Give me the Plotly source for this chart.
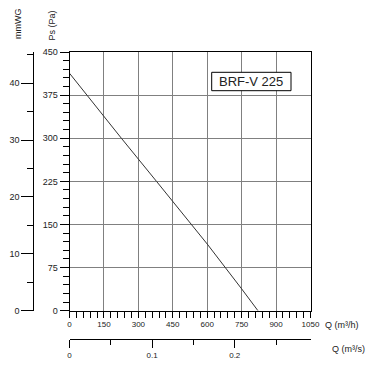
import plotly.graph_objects as go

# Data
flow_m3h = [0, 75, 226, 379, 531, 600, 750, 821]
pressure_pa = [413, 375, 300, 225, 150, 116, 38, 0]

pa_ticks = [0, 75, 150, 225, 300, 375, 450]
mmwg_ticks = [0, 10, 20, 30, 40]
q_h_ticks = [0, 150, 300, 450, 600, 750, 900, 1050]
q_s_ticks = [0, 0.1, 0.2]
model_label = "BRF-V 225"

OFF = 8  # page body margin
W, H = 382 - OFF, 381 - OFF


def px(x):
    return (x - OFF) / W


def py(y):
    return (H - (y - OFF)) / H


x0, x1 = 69.5, 310.5
ytop, ybot = 52.0, 310.7

FONT = "Liberation Sans, Arial, sans-serif"
TXT = "#222"

fig = go.Figure()
fig.add_trace(go.Scatter(x=flow_m3h, y=pressure_pa, mode="lines",
                         line=dict(color="#333", width=1), hoverinfo="skip",
                         showlegend=False))
fig.add_trace(go.Scatter(x=[None], y=[None], xaxis="x2", yaxis="y2",
                         mode="lines", showlegend=False, hoverinfo="skip"))

dom_x = [px(x0), px(x1)]
dom_y = [py(ybot), py(ytop)]

fig.update_layout(
    width=W, height=H, autosize=False,
    margin=dict(l=0, r=0, t=0, b=0, pad=0),
    paper_bgcolor="white", plot_bgcolor="white",
    font=dict(family=FONT, size=9, color=TXT),
    xaxis=dict(domain=dom_x, range=[0, 1050], tickvals=q_h_ticks, automargin=False,
               tickfont=dict(size=8),
               showgrid=True, gridcolor="#808080", gridwidth=1,
               showline=True, linecolor="black", linewidth=1, mirror=True,
               ticks="outside", ticklen=6, tickcolor="black",
               minor=dict(dtick=30, ticks="outside", ticklen=6, tickcolor="black", showgrid=False),
               zeroline=False, fixedrange=True, anchor="y"),
    yaxis=dict(domain=dom_y, range=[0, 450], tickvals=pa_ticks, automargin=False,
               showgrid=True, gridcolor="#808080", gridwidth=1,
               showline=True, linecolor="black", linewidth=1, mirror=True,
               ticks="outside", ticklen=9, tickcolor="black",
               minor=dict(dtick=15, ticks="outside", ticklen=6, tickcolor="black", showgrid=False),
               zeroline=False, fixedrange=True, anchor="x"),
    xaxis2=dict(overlaying="x", anchor="free", position=py(339.3), automargin=False,
                side="bottom", range=[0, 1050 / 3600], tickvals=q_s_ticks,
                tickfont=dict(size=8),
                showgrid=False, showline=True, linecolor="black", linewidth=1,
                ticks="outside", ticklen=8, tickcolor="black",
                minor=dict(dtick=0.05, ticks="outside", ticklen=5, tickcolor="black"),
                zeroline=False, fixedrange=True),
    yaxis2=dict(overlaying="y", anchor="free", position=px(33.3), side="left", automargin=False,
                range=[0, 45.5], tickvals=mmwg_ticks,
                showgrid=False, showline=True, linecolor="black", linewidth=1,
                ticks="outside", ticklen=12, tickcolor="black",
                minor=dict(dtick=5, ticks="outside", ticklen=6, tickcolor="black"),
                zeroline=False, fixedrange=True),
)

fig.add_shape(type="rect", xref="paper", yref="paper",
              x0=px(211.7), x1=px(291), y0=py(90.7), y1=py(72.3),
              line=dict(color="black", width=1), fillcolor="white", layer="above")

ann = [
    dict(text=model_label, x=px(251.3), y=py(81.5), size=13, xanchor="center", angle=0),
    dict(text="Q (m³/h)", x=px(322.5), y=py(324.5), size=9, xanchor="left", angle=0),
    dict(text="Q (m³/s)", x=px(330), y=py(348.5), size=9, xanchor="left", angle=0),
    dict(text="mmWG", x=px(18), y=py(24), size=9, xanchor="center", angle=-90),
    dict(text="Ps (Pa)", x=px(51.5), y=py(26), size=9, xanchor="center", angle=-90),
]
for a in ann:
    fig.add_annotation(text=a["text"], x=a["x"], y=a["y"], xref="paper", yref="paper",
                       xanchor=a["xanchor"], yanchor="middle", showarrow=False,
                       textangle=a["angle"], font=dict(family=FONT, size=a["size"], color=TXT))

fig.write_html("out.html")
